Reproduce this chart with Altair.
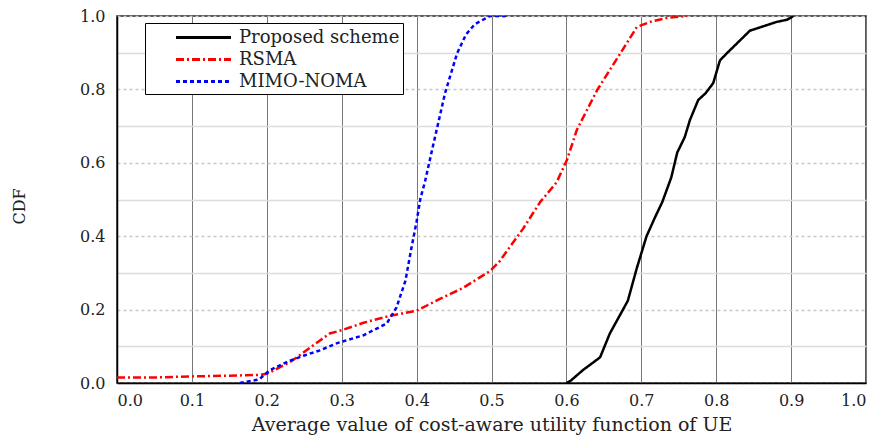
import altair as alt
import pandas as pd

series_names = ["Proposed scheme", "RSMA", "MIMO-NOMA"]
series_colors = ["#000000", "#ff0000", "#0000ff"]
series_dashes = [[1, 0], [8, 3, 2, 3], [4, 3]]

proposed_x = [0.600, 0.605, 0.622, 0.645, 0.658, 0.682, 0.694, 0.707, 0.718, 0.728, 0.740,
              0.748, 0.758, 0.765, 0.776, 0.786, 0.796, 0.805, 0.815, 0.823, 0.835, 0.845,
              0.860, 0.881, 0.895, 0.903]
proposed_y = [0.000, 0.005, 0.035, 0.070, 0.135, 0.224, 0.313, 0.400, 0.450, 0.493, 0.560,
              0.628, 0.670, 0.717, 0.771, 0.790, 0.817, 0.879, 0.900, 0.916, 0.940, 0.960,
              0.970, 0.984, 0.990, 1.000]

rsma_x = [0.000, 0.050, 0.100, 0.150, 0.190, 0.200, 0.231, 0.253, 0.271, 0.284, 0.302, 0.329,
          0.364, 0.400, 0.431, 0.462, 0.498, 0.511, 0.525, 0.542, 0.565, 0.587, 0.601, 0.614,
          0.641, 0.672, 0.694, 0.712, 0.735, 0.761]
rsma_y = [0.015, 0.015, 0.018, 0.020, 0.022, 0.025, 0.057, 0.089, 0.116, 0.135, 0.145, 0.164,
          0.183, 0.197, 0.229, 0.259, 0.305, 0.332, 0.372, 0.420, 0.493, 0.547, 0.609, 0.690,
          0.798, 0.898, 0.970, 0.984, 0.995, 1.000]

noma_x = [0.164, 0.190, 0.204, 0.230, 0.250, 0.271, 0.293, 0.329, 0.360, 0.373, 0.385, 0.393,
          0.400, 0.405, 0.411, 0.422, 0.438, 0.454, 0.466, 0.478, 0.498, 0.520]
noma_y = [0.000, 0.010, 0.035, 0.060, 0.075, 0.089, 0.108, 0.130, 0.162, 0.205, 0.278, 0.367,
          0.440, 0.502, 0.547, 0.647, 0.790, 0.898, 0.950, 0.978, 1.000, 1.000]

x_ticks = [0.0, 0.1, 0.2, 0.3, 0.4, 0.5, 0.6, 0.7, 0.8, 0.9, 1.0]
y_ticks = [0.0, 0.1, 0.2, 0.3, 0.4, 0.5, 0.6, 0.7, 0.8, 0.9, 1.0]

rows = []
for name, xs, ys in [(series_names[0], proposed_x, proposed_y),
                     (series_names[1], rsma_x, rsma_y),
                     (series_names[2], noma_x, noma_y)]:
    for i, (xv, yv) in enumerate(zip(xs, ys)):
        rows.append({"series": name, "x": xv, "y": yv, "i": i})
df = pd.DataFrame(rows)

FONT = "DejaVu Serif"

legend = alt.Legend(
    title=None, orient="none", legendX=28, legendY=7,
    fillColor="white", strokeColor="black", padding=3,
    symbolType="M-2.75,0L2.75,0", symbolSize=400, symbolStrokeWidth=3,
    symbolOffset=44, labelFont=FONT, labelFontSize=18, labelColor="#222",
    rowPadding=1, labelOffset=24, labelLimit=400,
)

even = "round(datum.value*10) % 2 == 0"

chart = alt.Chart(df).mark_line(clip=True, strokeWidth=2.5).encode(
    x=alt.X("x:Q", scale=alt.Scale(domain=[0, 1], nice=False),
            axis=alt.Axis(values=x_ticks, format=".1f", ticks=False,
                          title="Average value of cost-aware utility function of UE",
                          titleFontSize=19,
                          gridColor="#777", gridWidth=1, labelPadding=9,
                          titlePadding=7, domainColor="#000", domainWidth=1.5)),
    y=alt.Y("y:Q", scale=alt.Scale(domain=[0, 1], nice=False),
            axis=alt.Axis(values=y_ticks, ticks=False, title="CDF",
                          titleFontSize=16,
                          labelExpr=f"{even} ? format(datum.value, '.1f') : ''",
                          gridColor={"condition": {"test": even, "value": "#c8c8c8"}, "value": "#dcdcdc"},
                          gridDash={"condition": {"test": even, "value": [3, 3]}, "value": [1, 0]},
                          gridWidth=1.5, labelPadding=12,
                          titleX=-98, titleY=190, titleAlign="center", titleBaseline="middle",
                          domainColor="#000", domainWidth=1.5)),
    color=alt.Color("series:N", scale=alt.Scale(domain=series_names, range=series_colors), legend=legend),
    strokeDash=alt.StrokeDash("series:N", scale=alt.Scale(domain=series_names, range=series_dashes), legend=legend),
    order="i:Q",
).properties(
    width=749, height=367,
    autosize=alt.AutoSizeParams(type="none"),
    padding={"left": 109, "top": 8, "right": 10, "bottom": 55},
).configure_axis(
    labelFont=FONT, labelFontSize=16, labelColor="#222",
    titleFont=FONT, titleFontWeight="normal", titleColor="#222",
).configure_view(
    stroke="#222", strokeWidth=1.5,
)

chart.save("out.html", embed_options={"renderer": "svg", "actions": False})
